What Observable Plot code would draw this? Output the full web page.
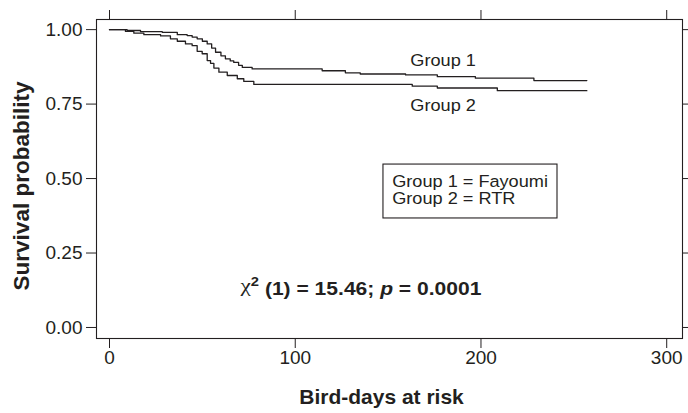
<!DOCTYPE html>
<html>
<head>
<meta charset="utf-8">
<script src="https://cdn.jsdelivr.net/npm/d3@7"></script>
<script src="https://cdn.jsdelivr.net/npm/@observablehq/plot@0.6"></script>
<style>
  html, body { margin: 0; padding: 0; background: #fff; }
  #chart svg { font-family: "Liberation Sans", Arial, sans-serif; display: block; }
</style>
</head>
<body>
<div id="chart"></div>
<script>
// ---- data ----
const group1Days = [0, 9.5, 16.7, 28.4, 36.5, 41.8, 44.5, 47.2, 50.0, 52.6, 55.0, 57.1, 60.0, 62.4, 65.0, 66.9, 69.5, 71.5, 76.8, 114.5, 127, 135, 159.4, 176.5, 197, 228.5, 257];
const group1Surv = [1.0, 0.997, 0.993, 0.991, 0.983, 0.980, 0.975, 0.969, 0.961, 0.952, 0.938, 0.924, 0.912, 0.902, 0.895, 0.890, 0.880, 0.873, 0.868, 0.862, 0.855, 0.851, 0.848, 0.842, 0.837, 0.829, 0.829];
const group2Days = [0, 8.6, 13.1, 18.5, 27.5, 32.8, 36.5, 40.9, 44.5, 47.2, 49.9, 52.6, 54.4, 56.2, 58.9, 63.4, 68.8, 72.3, 77.7, 163, 176.5, 208.8, 257];
const group2Surv = [1.0, 0.994, 0.988, 0.983, 0.979, 0.969, 0.961, 0.952, 0.946, 0.927, 0.919, 0.896, 0.887, 0.871, 0.857, 0.846, 0.835, 0.826, 0.816, 0.810, 0.804, 0.795, 0.795];
const groupNames = ["Group 1", "Group 2"];
const xTicks = [0, 100, 200, 300];
const yTicks = [0, 0.25, 0.5, 0.75, 1.0];
const xLabel = "Bird-days at risk";
const yLabel = "Survival probability";

// annotations (data coordinates)
const groupLabels = [
  {x: 179.6, y: 0.896, text: "Group 1"},
  {x: 179.6, y: 0.745, text: "Group 2"}
];
const legendBox = [{x1: 147.5, x2: 241.2, y1: 0.366, y2: 0.547}];
const legendLines = [
  {x: 152.2, y: 0.491, text: "Group 1 = Fayoumi"},
  {x: 152.2, y: 0.433, text: "Group 2 = RTR"}
];
const statNote = [{x: 135.4, y: 0.138, text: "χ2 (1) = 15.46; p = 0.0001"}];

const survival = [
  ...group1Days.map((d, i) => ({group: groupNames[0], day: d, surv: group1Surv[i]})),
  ...group2Days.map((d, i) => ({group: groupNames[1], day: d, surv: group2Surv[i]}))
];

const ink = "#231f20";

const plot = Plot.plot({
  width: 688,
  height: 413,
  marginLeft: 96,
  marginRight: 6,
  marginTop: 19,
  marginBottom: 75,
  style: {fontFamily: "Liberation Sans, Arial, sans-serif", color: ink, background: "#fff"},
  x: {domain: [-7, 308.5]},
  y: {domain: [-0.037, 1.034]},
  marks: [
    Plot.frame({stroke: ink, strokeWidth: 1.1}),
    Plot.axisX({anchor: "bottom", ticks: xTicks, tickSize: 10, tickPadding: 2, fontSize: 19, label: null, stroke: ink}),
    Plot.axisX({anchor: "top", ticks: xTicks, tickSize: 10, tickFormat: () => "", label: null, stroke: ink}),
    Plot.axisY({anchor: "left", ticks: yTicks, tickSize: 10, tickPadding: 4, tickFormat: d3.format(".2f"), fontSize: 19, label: null, stroke: ink}),
    Plot.axisY({anchor: "right", ticks: yTicks, tickSize: 8, tickFormat: () => "", label: null, stroke: ink}),
    Plot.line(survival, {x: "day", y: "surv", z: "group", curve: "step-after", stroke: ink, strokeWidth: 1.3}),
    Plot.text(groupLabels, {x: "x", y: "y", text: "text", fontSize: 16.5, fill: ink}),
    Plot.rect(legendBox, {x1: "x1", x2: "x2", y1: "y1", y2: "y2", fill: "white", stroke: ink, strokeWidth: 1.1}),
    Plot.text(legendLines, {x: "x", y: "y", text: "text", textAnchor: "start", fontSize: 16.5, fill: ink}),
    Plot.text(statNote, {x: "x", y: "y", text: "text", fontSize: 18, fontWeight: "bold", fill: ink}),
    Plot.text([xLabel], {frameAnchor: "bottom", dy: 65, dx: -8, text: d => d, fontSize: 20, fontWeight: "bold", fill: ink}),
    Plot.text([yLabel], {frameAnchor: "left", dx: -75, dy: 7, rotate: -90, textAnchor: "middle", text: d => d, fontSize: 22.5, fontWeight: "bold", fill: ink})
  ]
});

// the reference's lettering is set slightly wide: stretch horizontally about each text's anchor
function widen(strings, k) {
  d3.select(plot).selectAll("text").filter(function () {
    return strings.includes(this.textContent);
  }).each(function () {
    const tr = this.getAttribute("transform");
    if (tr) this.setAttribute("transform", `${tr} scale(${k},1)`);
  });
}
widen(groupLabels.map(d => d.text), 1.1);
widen(legendLines.map(d => d.text), 1.1);
widen(statNote.map(d => d.text), 1.17);
widen([xLabel], 1.05);

// rich formatting of the statistic: superscript 2 and italic p
d3.select(plot).selectAll("text").filter(function () {
  return this.textContent.startsWith("χ");
}).each(function () {
  const t = d3.select(this);
  t.text(null);
  t.append("tspan").attr("font-weight", "normal").attr("font-family", "Liberation Serif").attr("font-size", "1.1em").text("χ");
  t.append("tspan").attr("dy", "-0.45em").attr("font-size", "0.7em").text("2");
  t.append("tspan").attr("dy", "0.45em").text(" (1) = 15.46; ");
  t.append("tspan").attr("font-style", "italic").text("p");
  t.append("tspan").text(" = 0.0001");
});

document.getElementById("chart").appendChild(plot);
</script>
</body>
</html>
